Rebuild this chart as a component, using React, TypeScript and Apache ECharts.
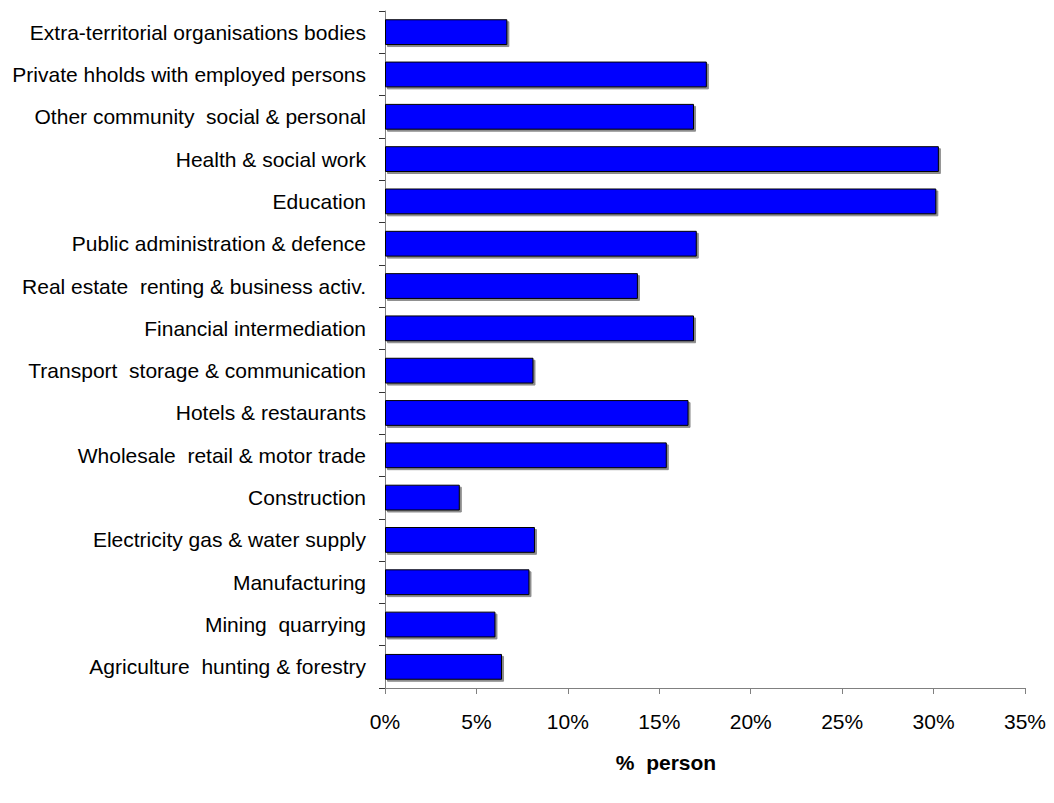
import React, { useEffect, useRef } from "react";
import * as echarts from "echarts";

const categories = [
  "Agriculture  hunting & forestry",
  "Mining  quarrying",
  "Manufacturing",
  "Electricity gas & water supply",
  "Construction",
  "Wholesale  retail & motor trade",
  "Hotels & restaurants",
  "Transport  storage & communication",
  "Financial intermediation",
  "Real estate  renting & business activ.",
  "Public administration & defence",
  "Education",
  "Health & social work",
  "Other community  social & personal",
  "Private hholds with employed persons",
  "Extra-territorial organisations bodies",
];

const values = [6.4, 6.04, 7.9, 8.2, 4.09, 15.41, 16.6, 8.12, 16.9, 13.83, 17.05, 30.15, 30.29, 16.9, 17.6, 6.69];

const axisTitle = "%  person";

export default function App() {
  const ref = useRef<HTMLDivElement>(null);
  useEffect(() => {
    const chart = echarts.init(ref.current!, undefined, { renderer: "svg" });
    const font = "'Liberation Sans', Arial, sans-serif";
    chart.setOption({
      animation: false,
      grid: { left: 385, right: 29, top: 11, bottom: 115 },
      xAxis: {
        type: "value",
        min: 0,
        max: 35,
        interval: 5,
        axisLine: { show: true, lineStyle: { color: "#808080", width: 1 } },
        axisTick: { show: true, length: 6, lineStyle: { color: "#808080" } },
        splitLine: { show: false },
        axisLabel: {
          formatter: (v: number) => v + "%",
          color: "#000",
          fontSize: 21,
          fontFamily: font,
          margin: 23,
        },
      },
      yAxis: {
        type: "category",
        data: categories,
        axisLine: { show: true, lineStyle: { color: "#808080", width: 1 } },
        axisTick: { show: true, length: 6, alignWithLabel: false, lineStyle: { color: "#333" } },
        axisLabel: { color: "#000", fontSize: 21, fontFamily: font, margin: 19 },
      },
      series: [
        {
          type: "bar",
          data: values,
          barCategoryGap: "39%",
          itemStyle: {
            color: "#0000FF",
            borderColor: "#000",
            borderWidth: 1,
            shadowColor: "rgba(0,0,0,0.45)",
            shadowOffsetX: 2,
            shadowOffsetY: 2,
            shadowBlur: 0,
          },
        },
      ],
      graphic: [
        {
          type: "text",
          x: 666,
          y: 762,
          style: {
            text: axisTitle,
            fontSize: 21,
            fontWeight: "bold",
            fontFamily: font,
            fill: "#000",
            align: "center",
            verticalAlign: "middle",
          },
        },
      ],
    });
    return () => chart.dispose();
  }, []);
  return <div ref={ref} style={{ width: 1054, height: 803, position: "absolute", left: 0, top: 0 }} />;
}
